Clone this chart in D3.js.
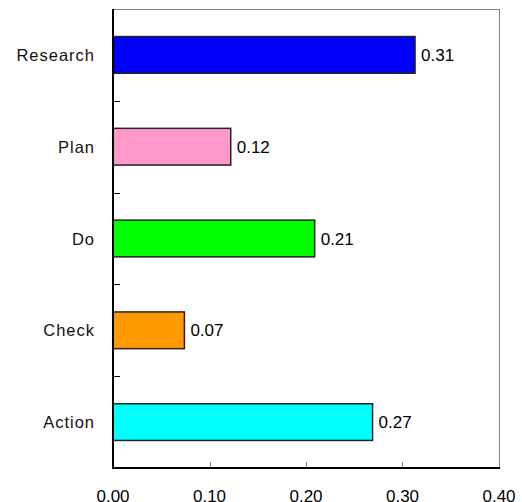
<!DOCTYPE html>
<html><head><meta charset="utf-8">
<script src="https://cdn.jsdelivr.net/npm/d3@7"></script>
<style>body{margin:0;background:#fff}svg{display:block}</style>
</head><body>
<script>
const categories = ["Research", "Plan", "Do", "Check", "Action"];
const values = [0.313, 0.122, 0.209, 0.074, 0.269];
const colors = ["#0000FF", "#FF99CC", "#00FF00", "#FF9900", "#00FFFF"];
const xTicks = [0, 0.1, 0.2, 0.3, 0.4];

const W = 522, H = 502;
const m = {left: 113, right: 23, top: 9, bottom: 34};
const svg = d3.select("body").append("svg").attr("width", W).attr("height", H);
const x = d3.scaleLinear().domain([0, 0.4]).range([m.left, W - m.right]);
const y = d3.scaleBand().domain(categories).range([m.top, H - m.bottom]).paddingInner(0.6).paddingOuter(0.3);
const font = "'Liberation Sans', Arial, sans-serif";

// frame top/right
svg.append("line").attr("x1", m.left).attr("x2", W - m.right).attr("y1", m.top + 0.5).attr("y2", m.top + 0.5).attr("stroke", "#808080");
svg.append("line").attr("x1", W - m.right + 0.5).attr("x2", W - m.right + 0.5).attr("y1", m.top).attr("y2", H - m.bottom).attr("stroke", "#808080");

// x ticks (inward)
svg.selectAll(".xt").data(xTicks.slice(1, 4)).enter().append("line")
  .attr("x1", d => Math.round(x(d)) + 0.5).attr("x2", d => Math.round(x(d)) + 0.5)
  .attr("y1", H - m.bottom).attr("y2", H - m.bottom - 6).attr("stroke", "#808080");
svg.selectAll(".xl").data(xTicks).enter().append("text")
  .attr("x", d => x(d)).attr("y", H - m.bottom + 34).attr("text-anchor", "middle")
  .attr("font-family", font).attr("font-size", 17).attr("fill", "#000")
  .text(d => d.toFixed(2));

// y boundary ticks
const step = y.step();
const bounds = categories.slice(1).map(c => y(c) - step * y.paddingInner() / 2);
svg.selectAll(".yt").data(bounds).enter().append("line")
  .attr("x1", m.left).attr("x2", m.left + 7).attr("y1", d => Math.round(d) + 0.5).attr("y2", d => Math.round(d) + 0.5)
  .attr("stroke", "#000");

// bars
svg.selectAll(".bar").data(categories).enter().append("rect")
  .attr("x", m.left).attr("y", d => y(d))
  .attr("width", (d, i) => x(values[i]) - m.left).attr("height", y.bandwidth())
  .attr("fill", (d, i) => colors[i]).attr("stroke", "#222").attr("stroke-width", 1.5);

// value labels
svg.selectAll(".vl").data(categories).enter().append("text")
  .attr("x", (d, i) => x(values[i]) + 6).attr("y", d => y(d) + y.bandwidth() / 2 + 6)
  .attr("font-family", font).attr("font-size", 17).attr("fill", "#000")
  .text((d, i) => values[i].toFixed(2));

// category labels
svg.selectAll(".cl").data(categories).enter().append("text")
  .attr("x", 95).attr("y", d => y(d) + y.bandwidth() / 2 + 6).attr("text-anchor", "end")
  .attr("font-family", font).attr("font-size", 16.5).attr("letter-spacing", "1px").attr("fill", "#111")
  .text(d => d);

// left & bottom axis lines
svg.append("line").attr("x1", m.left).attr("x2", m.left).attr("y1", m.top).attr("y2", H - m.bottom + 1).attr("stroke", "#000").attr("stroke-width", 2);
svg.append("line").attr("x1", m.left).attr("x2", W - m.right + 1).attr("y1", H - m.bottom).attr("y2", H - m.bottom).attr("stroke", "#000").attr("stroke-width", 2);
</script>
</body></html>
